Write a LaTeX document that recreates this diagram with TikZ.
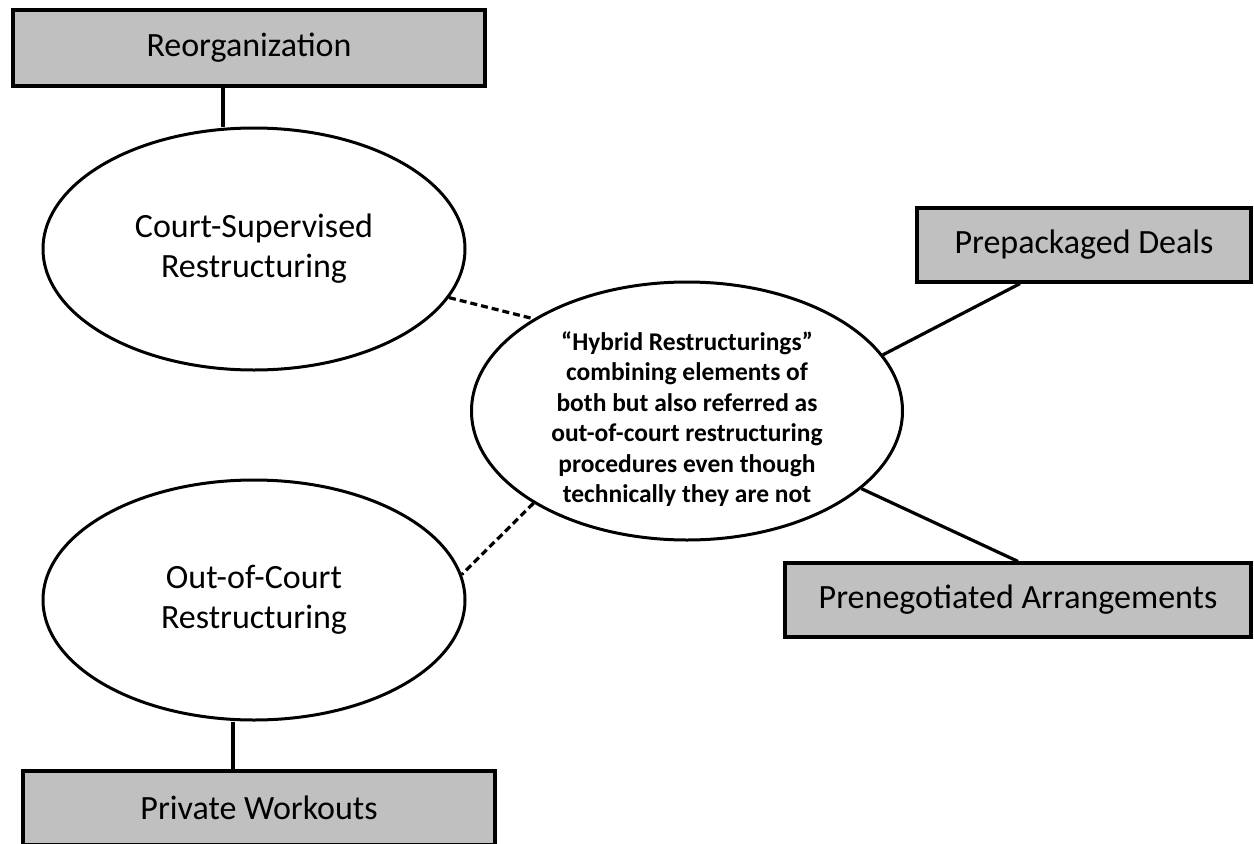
\documentclass[tikz,border=0pt]{standalone}
\usepackage{fontspec}
\setmainfont{Carlito}
\usetikzlibrary{shapes.geometric}
\definecolor{boxgray}{RGB}{192,192,192}
\tikzset{
  graybox/.style={draw=black, line width=3.2pt, fill=boxgray, rectangle, inner sep=0pt,
    font=\fontsize{34}{40}\selectfont},
  oval/.style={draw=black, line width=3pt, ellipse, inner sep=0pt, align=center,
    font=\fontsize{34}{40}\selectfont},
  hybshape/.style={draw=black, line width=3pt, ellipse, inner sep=0pt},
  hybtext/.style={align=center, inner sep=0pt, font=\bfseries\fontsize{25.5}{30.5}\selectfont},
  solidlink/.style={line width=3.2pt},
  dashlink/.style={line width=3.2pt, dash pattern=on 7pt off 4pt},
}
\begin{document}
\begin{tikzpicture}[x=1pt,y=-1pt]
\useasboundingbox (0,0) rectangle (1254,844);
\node[graybox, minimum width=472pt, minimum height=76pt] (reorg) at (249,48) {Reorganization};
\node[graybox, minimum width=334pt, minimum height=74pt] (prepack) at (1084,245) {Prepackaged Deals};
\node[graybox, minimum width=466pt, minimum height=74pt] (preneg) at (1018,600) {Prenegotiated Arrangements};
\node[graybox, minimum width=472pt, minimum height=74pt] (private) at (259,808) {Private Workouts};
\node[oval, minimum width=422pt, minimum height=242pt] (court) at (254,249) {Court-Supervised\\Restructuring};
\node[oval, minimum width=422pt, minimum height=240pt] (out) at (254,600) {Out-of-Court\\Restructuring};
\node[hybshape, minimum width=431pt, minimum height=258pt] (hybrid) at (687,411) {};
\node[hybtext] (hybtxt) at ([yshift=-8pt]hybrid.center)
  {“Hybrid Restructurings”\\combining elements of\\both but also referred as\\out-of-court restructuring\\procedures even though\\technically they are not};
\draw[solidlink] ([xshift=-31pt]court.north |- reorg.south) -- ([xshift=-31pt]court.north);
\draw[solidlink] ([xshift=-21pt]out.south) -- ([xshift=-21pt]out.south |- private.north);
\draw[dashlink] (court.-14) -- (hybrid.149);
\draw[dashlink] (hybrid.211) -- (out.7);
\draw[solidlink] (hybrid.16) -- ([xshift=-64pt]prepack.south);
\draw[solidlink] (hybrid.-24) -- (preneg.north);
\end{tikzpicture}
\end{document}
